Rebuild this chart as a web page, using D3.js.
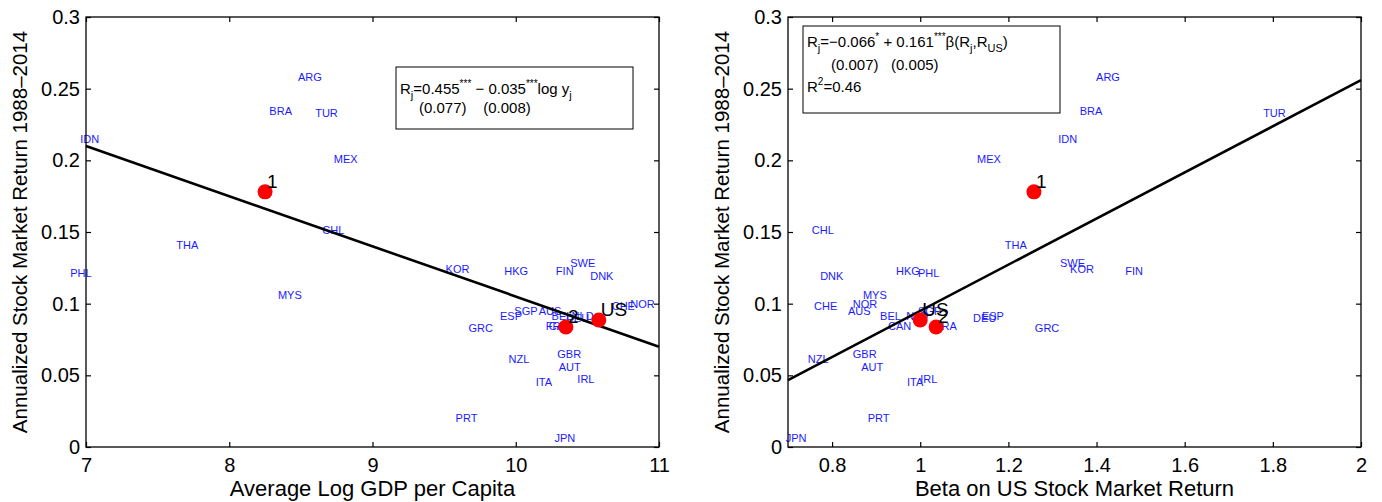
<!DOCTYPE html>
<html><head><meta charset="utf-8">
<script src="https://cdn.jsdelivr.net/npm/d3@7"></script>
<style>body{margin:0;background:#fff}svg{display:block}text{font-family:"Liberation Sans",Arial,Helvetica,sans-serif;white-space:pre}</style>
</head><body><svg id="c" width="1382" height="502"></svg>
<script>
const countries = ["ARG","BRA","TUR","IDN","MEX","CHL","THA","SWE","KOR","FIN","HKG","PHL","DNK","MYS","NOR","CHE","AUS","SGP","BEL","NLD","DEU","ESP","CAN","FRA","GRC","GBR","NZL","AUT","IRL","ITA","PRT","JPN"];
const returns   = [0.258,0.234,0.233,0.215,0.201,0.151,0.141,0.128,0.124,0.123,0.123,0.121,0.119,0.106,0.100,0.098,0.095,0.095,0.091,0.091,0.090,0.091,0.084,0.084,0.083,0.065,0.061,0.056,0.047,0.045,0.020,0.006];
const logGdp    = [8.48,8.28,8.60,6.96,8.73,8.65,7.63,10.38,9.51,10.28,9.92,6.89,10.52,8.34,10.80,10.67,10.16,9.99,10.25,10.39,10.35,9.89,10.23,10.21,9.67,10.29,9.95,10.30,10.43,10.14,9.58,10.27];
const betaUS    = [1.399,1.362,1.778,1.313,1.129,0.754,1.192,1.317,1.340,1.465,0.945,0.995,0.773,0.870,0.847,0.759,0.836,0.995,0.909,0.968,1.120,1.140,0.927,1.033,1.260,0.847,0.745,0.866,1.000,0.970,0.881,0.695];
const groupLabels = ["1","2","US"];
const groupGdp    = [8.25,10.35,10.58];
const groupBeta   = [1.258,1.036,1.000];
const groupRet    = [0.178,0.0837,0.0886];
const yTicks = [0,0.05,0.1,0.15,0.2,0.25,0.3];
const xTicksLeft = [7,8,9,10,11];
const xTicksRight = [0.8,1,1.2,1.4,1.6,1.8,2];
const fitLeft = [0.455,-0.035];
const fitRight = [-0.066,0.161];

const svg = d3.select("#c");
const plotTop = 17, plotBottom = 447, W = 573;

function panel(x0, xDomain, xTicks, xs, gx, fit, xLabel) {
  const g = svg.append("g");
  const x = d3.scaleLinear().domain(xDomain).range([x0, x0 + W]);
  const y = d3.scaleLinear().domain([0, 0.3]).range([plotBottom, plotTop]);
  g.selectAll("text.cty").data(countries).enter().append("text").attr("class","cty")
    .attr("x", (d,i) => x(xs[i])).attr("y", (d,i) => y(returns[i]))
    .attr("dy", "0.35em").attr("font-size", 11).attr("fill", "#1a1aff").text(d => d);
  g.append("rect").attr("x", x0).attr("y", plotTop).attr("width", W).attr("height", plotBottom - plotTop)
    .attr("fill", "none").attr("stroke", "#000").attr("stroke-width", 1.3);
  const fmt = d => d3.format("~g")(d);
  const gb = g.append("g").attr("transform", `translate(0,${plotBottom})`).call(d3.axisBottom(x).tickValues(xTicks).tickSizeInner(-5).tickSizeOuter(0).tickPadding(11).tickFormat(fmt));
  const gt = g.append("g").attr("transform", `translate(0,${plotTop})`).call(d3.axisTop(x).tickValues(xTicks).tickSizeInner(-5).tickSizeOuter(0).tickFormat(""));
  const gl = g.append("g").attr("transform", `translate(${x0},0)`).call(d3.axisLeft(y).tickValues(yTicks).tickSizeInner(-5).tickSizeOuter(0).tickPadding(6).tickFormat(fmt));
  const gr = g.append("g").attr("transform", `translate(${x0+W},0)`).call(d3.axisRight(y).tickValues(yTicks).tickSizeInner(-5).tickSizeOuter(0).tickFormat(""));
  [gb,gt,gl,gr].forEach(a => { a.select(".domain").remove(); a.selectAll("line").attr("stroke","#000").attr("stroke-width",1.2);
    a.selectAll("text").attr("font-size", 20).attr("fill","#000").attr("font-family","Liberation Sans, Arial, sans-serif"); });
  g.append("line").attr("x1", x(xDomain[0])).attr("y1", y(fit[0] + fit[1]*xDomain[0]))
    .attr("x2", x(xDomain[1])).attr("y2", y(fit[0] + fit[1]*xDomain[1]))
    .attr("stroke", "#000").attr("stroke-width", 2.6);
  g.selectAll("circle").data(groupLabels).enter().append("circle")
    .attr("cx", (d,i) => x(gx[i])).attr("cy", (d,i) => y(groupRet[i])).attr("r", 7.5).attr("fill", "#f00");
  g.selectAll("text.grp").data(groupLabels).enter().append("text").attr("class","grp")
    .attr("x", (d,i) => x(gx[i]) + 2).attr("y", (d,i) => y(groupRet[i]) - 4)
    .attr("font-size", 19).attr("fill", "#000").text(d => d);
  g.append("text").attr("x", x0 + W/2).attr("y", 496).attr("text-anchor", "middle").attr("font-size", 22).text(xLabel);
  g.append("text").attr("transform", `translate(${x0-59},${(plotTop+plotBottom)/2}) rotate(-90)`).attr("text-anchor", "middle")
    .attr("font-size", 20.5).text("Annualized Stock Market Return 1988–2014");
  return g;
}

panel(86, [7,11], xTicksLeft, logGdp, groupGdp, fitLeft, "Average Log GDP per Capita");
panel(788, [0.7,2], xTicksRight, betaUS, groupBeta, fitRight, "Beta on US Stock Market Return");

function rich(g, xx, yy, parts) {
  const t = g.append("text").attr("x", xx).attr("y", yy).attr("font-size", 15).attr("xml:space","preserve");
  let cur = 0;
  parts.forEach(p => {
    const [s, k] = p;
    const target = k === "sub" ? 5 : k === "sup" ? -7 : 0;
    const ts = t.append("tspan").attr("dy", target - cur).text(s);
    if (k) ts.attr("font-size", k === "sup" ? 10 : 11);
    cur = target;
  });
}
const a1 = svg.append("g");
a1.append("rect").attr("x",396).attr("y",67).attr("width",237).attr("height",62).attr("fill","#fff").attr("stroke","#000").attr("stroke-width",1);
rich(a1, 400, 94, [["R"],["j","sub"],["=0.455"],["***","sup"],[" − 0.035"],["***","sup"],["log y"],["j","sub"]]);
rich(a1, 419, 113, [["(0.077)    (0.008)"]]);
const a2 = svg.append("g");
a2.append("rect").attr("x",803).attr("y",26).attr("width",257).attr("height",87).attr("fill","#fff").attr("stroke","#000").attr("stroke-width",1);
rich(a2, 807, 47, [["R"],["j","sub"],["=−0.066"],["*","sup"],[" + 0.161"],["***","sup"],["β(R"],["j","sub"],[",R"],["US","sub"],[")"]]);
rich(a2, 831, 70, [["(0.007)   (0.005)"]]);
rich(a2, 807, 92, [["R"],["2","sup"],["=0.46"]]);
</script></body></html>
